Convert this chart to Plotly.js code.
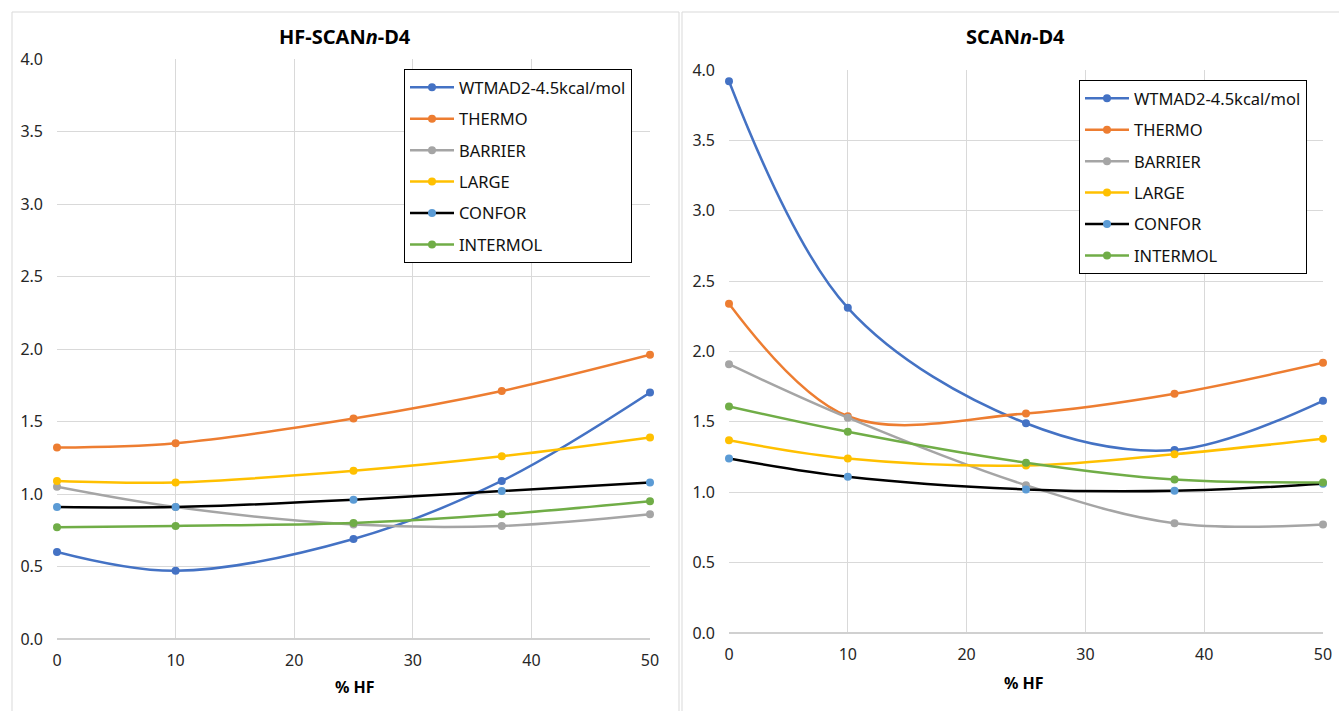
<!DOCTYPE html>
<html>
<head>
<meta charset="utf-8">
<script src="https://cdn.plot.ly/plotly-3.0.1.min.js"></script>
<style>html,body{margin:0;padding:0;background:#fff;}#chart{width:1339px;height:711px;}</style>
</head>
<body>
<div id="chart"></div>
<script>
// ---- data ----
const hfPercent = [0, 10, 25, 37.5, 50];
const seriesNames = ["WTMAD2-4.5kcal/mol", "THERMO", "BARRIER", "LARGE", "CONFOR", "INTERMOL"];
const lineColors = ["#4472C4", "#ED7D31", "#A5A5A5", "#FFC000", "#000000", "#70AD47"];
const markerColors = ["#4472C4", "#ED7D31", "#A5A5A5", "#FFC000", "#5B9BD5", "#70AD47"];

// HF-SCANn-D4 panel
const hfScan_WTMAD2 = [0.60, 0.47, 0.69, 1.09, 1.70];
const hfScan_THERMO = [1.32, 1.35, 1.52, 1.71, 1.96];
const hfScan_BARRIER = [1.05, 0.91, 0.79, 0.78, 0.86];
const hfScan_LARGE = [1.09, 1.08, 1.16, 1.26, 1.39];
const hfScan_CONFOR = [0.91, 0.91, 0.96, 1.02, 1.08];
const hfScan_INTERMOL = [0.77, 0.78, 0.80, 0.86, 0.95];

// SCANn-D4 panel
const scan_WTMAD2 = [3.92, 2.31, 1.49, 1.30, 1.65];
const scan_THERMO = [2.34, 1.54, 1.56, 1.70, 1.92];
const scan_BARRIER = [1.91, 1.53, 1.05, 0.78, 0.77];
const scan_LARGE = [1.37, 1.24, 1.19, 1.27, 1.38];
const scan_CONFOR = [1.24, 1.11, 1.02, 1.01, 1.06];
const scan_INTERMOL = [1.61, 1.43, 1.21, 1.09, 1.07];

const xTickVals = [0, 10, 20, 30, 40, 50];
const yTickVals = [0, 0.5, 1, 1.5, 2, 2.5, 3, 3.5, 4];
const panelTitles = ["HF-SCAN<i>n</i>-D4", "SCAN<i>n</i>-D4"];
const xAxisTitle = "% HF";

// ---- build ----
const panels = [
  [hfScan_WTMAD2, hfScan_THERMO, hfScan_BARRIER, hfScan_LARGE, hfScan_CONFOR, hfScan_INTERMOL],
  [scan_WTMAD2, scan_THERMO, scan_BARRIER, scan_LARGE, scan_CONFOR, scan_INTERMOL]
];
const FONT = "Noto Sans, Open Sans, sans-serif";
const traces = [];
panels.forEach((sets, p) => {
  sets.forEach((vals, i) => {
    traces.push({
      type: "scatter", mode: "lines+markers",
      x: hfPercent, y: vals, name: seriesNames[i],
      xaxis: p === 0 ? "x" : "x2", yaxis: p === 0 ? "y" : "y2",
      legend: p === 0 ? "legend" : "legend2",
      legendgroup: "p" + p + "s" + i,
      line: {color: lineColors[i], width: 2.5, shape: "spline", smoothing: 1},
      marker: {color: markerColors[i], size: 8},
      cliponaxis: false
    });
  });
});

const W = 1339, H = 711;
const px = v => v / W, py = v => 1 - v / H;

const axisX = (dom) => ({
  domain: dom, range: [0, 50], tickvals: xTickVals, ticks: "",
  showgrid: true, gridcolor: "#d9d9d9", gridwidth: 1,
  showline: false, zeroline: false,
  tickfont: {family: FONT, size: 16, color: "#262626"},
  ticklabelstandoff: 10, fixedrange: true
});
const axisY = (dom) => ({
  domain: dom, range: [0, 4], tickvals: yTickVals, tickformat: ".1f", ticks: "",
  showgrid: true, gridcolor: "#d9d9d9", gridwidth: 1,
  zeroline: true, zerolinecolor: "#d0d0d0", zerolinewidth: 1.5,
  showline: false,
  tickfont: {family: FONT, size: 16, color: "#262626"},
  ticklabelstandoff: 13, fixedrange: true
});

const legendStyle = (x, y) => ({
  x: x, y: y, xanchor: "left", yanchor: "top", xref: "paper", yref: "paper",
  bgcolor: "#ffffff", bordercolor: "#000000", borderwidth: 1,
  font: {family: FONT, size: 16.5, color: "#111"},
  traceorder: "grouped", tracegroupgap: 7, itemwidth: 44
});

const textAnn = (txt, x, y, size) => ({
  text: txt, x: px(x), y: py(y), xref: "paper", yref: "paper",
  xanchor: "center", yanchor: "middle", showarrow: false,
  font: {family: FONT, size: size, color: "#000"}
});

const layout = {
  width: W, height: H,
  margin: {l: 0, r: 0, t: 0, b: 0},
  paper_bgcolor: "#ffffff", plot_bgcolor: "#ffffff",
  showlegend: true,
  xaxis: Object.assign(axisX([px(57), px(650)]), {anchor: "y"}),
  yaxis: Object.assign(axisY([py(639), py(59)]), {anchor: "x"}),
  xaxis2: Object.assign(axisX([px(729), px(1323)]), {anchor: "y2"}),
  yaxis2: Object.assign(axisY([py(633), py(70)]), {anchor: "x2"}),
  legend: legendStyle(px(404), py(69)),
  legend2: legendStyle(px(1079), py(80)),
  shapes: [
    {type: "rect", xref: "paper", yref: "paper", x0: px(12), x1: px(679), y0: -0.02, y1: py(12),
     line: {color: "#d9d9d9", width: 1}, fillcolor: "rgba(0,0,0,0)", layer: "below"},
    {type: "rect", xref: "paper", yref: "paper", x0: px(682), x1: 1.01, y0: -0.02, y1: py(12),
     line: {color: "#d9d9d9", width: 1}, fillcolor: "rgba(0,0,0,0)", layer: "below"}
  ],
  annotations: [
    textAnn("<b>" + panelTitles[0] + "</b>", 345, 37, 20),
    textAnn("<b>" + panelTitles[1] + "</b>", 1015, 37, 20),
    textAnn("<b>" + xAxisTitle + "</b>", 355, 687, 16),
    textAnn("<b>" + xAxisTitle + "</b>", 1024, 683, 16)
  ]
};

Plotly.newPlot("chart", traces, layout, {displayModeBar: false, staticPlot: true});
</script>
</body>
</html>
